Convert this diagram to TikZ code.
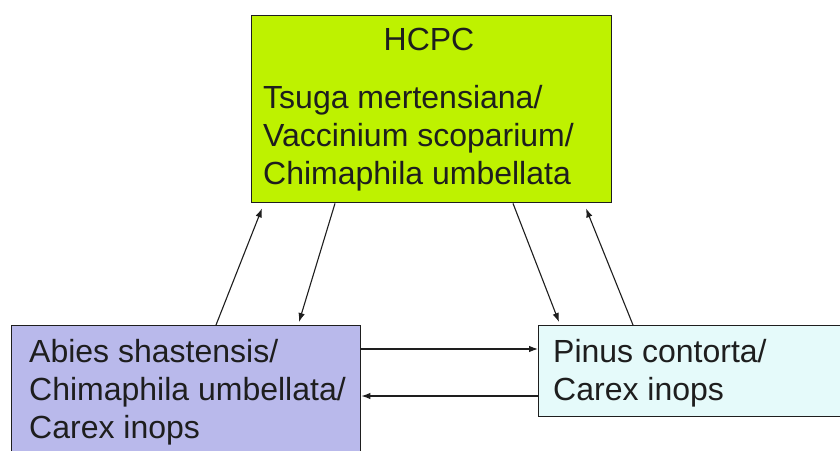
\documentclass[tikz,border=0pt]{standalone}
\usepackage{fontspec}
\setmainfont{Liberation Sans}
\usetikzlibrary{arrows.meta}
\definecolor{hcpcgreen}{RGB}{190,242,0}
\definecolor{abiesblue}{RGB}{185,185,235}
\definecolor{pinuscyan}{RGB}{229,250,250}
\definecolor{inkgray}{RGB}{30,30,30}

\begin{document}
\begin{tikzpicture}[x=1pt,y=-1pt,
  box/.style={rectangle,draw=inkgray,line width=1.4pt,anchor=north west,inner sep=0pt},
  lbl/.style={inner sep=0pt,text=inkgray,font=\fontsize{32}{38}\selectfont},
  arr/.style={-{Latex[length=9pt,width=6.5pt]},line width=1.1pt,draw=inkgray}]
\useasboundingbox[fill=white] (0,0) rectangle (840,450);

\node[box,fill=hcpcgreen,minimum width=360pt,minimum height=187pt] (hcpc) at (251,15) {};
\node[box,fill=abiesblue,minimum width=349pt,minimum height=160pt] (abies) at (11,325) {};
\node[box,fill=pinuscyan,minimum width=330pt,minimum height=91pt] (pinus) at (538,325) {};

\node[lbl,anchor=base] (hcpc-title) at (429,50) {HCPC};
\node[lbl,anchor=north west,align=left] (hcpc-text) at (263,85) {Tsuga mertensiana/\\Vaccinium scoparium/\\Chimaphila umbellata};
\node[lbl,anchor=north west,align=left] (abies-text) at (29,339) {Abies shastensis/\\Chimaphila umbellata/\\Carex inops};
\node[lbl,anchor=north west,align=left] (pinus-text) at (553,339) {Pinus contorta/\\Carex inops};

\draw[arr] ([xshift=205pt]abies.north west) -- ([xshift=11pt,yshift=-5pt]hcpc.south west);
\draw[arr] ([xshift=84pt]hcpc.south west) -- ([xshift=288pt,yshift=3pt]abies.north west);
\draw[arr] ([xshift=262pt]hcpc.south west) -- ([xshift=21pt,yshift=3pt]pinus.north west);
\draw[arr] ([xshift=95pt]pinus.north west) -- ([xshift=335pt,yshift=-5pt]hcpc.south west);
\draw[arr] ([yshift=-24pt]abies.north east) -- ([yshift=-24pt]pinus.north west);
\draw[arr] ([yshift=-71pt]pinus.north west) -- ([yshift=-71pt]abies.north east);
\end{tikzpicture}
\end{document}
